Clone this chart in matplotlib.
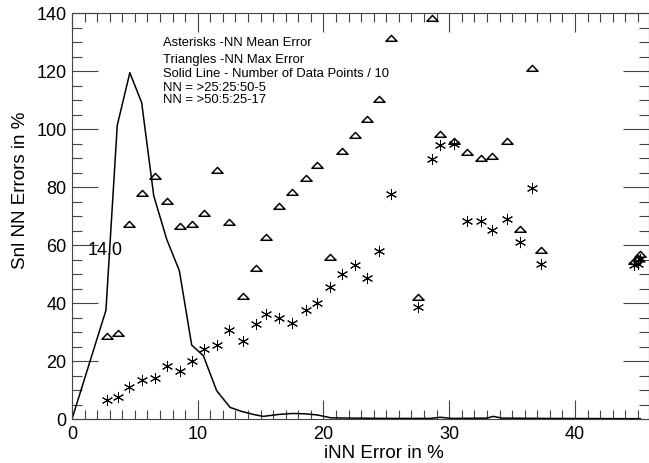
import matplotlib
matplotlib.use("Agg")
import matplotlib.pyplot as plt
from matplotlib.path import Path
from matplotlib.ticker import MultipleLocator

plt.rcParams['font.family'] = ['Liberation Sans', 'DejaVu Sans']

# bin centres (iNN error in %)
err_x = [2.76, 3.64, 4.56, 5.54, 6.6, 7.53, 8.6, 9.52, 10.5, 11.5, 12.5,
         13.6, 14.6, 15.4, 16.5, 17.5, 18.6, 19.5, 20.5, 21.5, 22.5, 23.5,
         24.4, 25.4, 27.55, 28.6, 29.3, 30.4, 31.4, 32.5, 33.4, 34.6, 35.6,
         36.6, 37.3, 44.7, 45.0, 45.2]
# triangles - NN max error
max_err = [28.7, 29.6, 67.2, 77.9, 83.8, 75.1, 66.4, 67.2, 71.2, 85.9, 68.1,
           42.5, 51.9, 62.8, 73.5, 78.4, 83.0, 87.6, 56.0, 92.4, 97.8, 103.6,
           110.2, 131.5, 41.9, 138.4, 98.2, 95.9, 91.9, 90.1, 90.7, 95.9, 65.4,
           121.1, 58.3, 54.5, 55.5, 57.0]
# asterisks - NN mean error
mean_err = [6.7, 7.7, 10.9, 13.5, 14.3, 18.4, 16.6, 20.0, 24.3, 25.6, 30.8,
            27.0, 32.7, 36.2, 34.8, 33.1, 37.7, 40.0, 45.4, 49.9, 53.0, 48.5,
            58.0, 77.7, 38.5, 89.6, 94.4, 94.7, 68.3, 68.3, 65.1, 68.9, 61.2,
            79.8, 53.4, 53.0, 53.4, 55.3]

# solid line - number of data points / 10
count_x = [0, 2.7, 3.6, 4.6, 5.54, 6.5, 7.53, 8.54, 9.52, 10.45, 11.5, 12.57,
           13.5, 14.5, 15.2, 16.5, 17.5, 18.5, 19.5, 20.6, 22.5, 25.0, 28.5,
           29.3, 30.2, 33.0, 33.5, 34.2, 37.5, 45.2]
count_y = [0, 37.5, 101.3, 119.4, 109.1, 77.0, 62.0, 51.1, 25.5, 21.8, 9.8, 4.0,
           2.6, 1.5, 0.9, 1.6, 1.9, 1.8, 1.4, 0.4, 0.3, 0.2, 0.2,
           0.6, 0.2, 0.3, 0.9, 0.3, 0.2, 0.1]

notes = ["Asterisks -NN Mean Error",
         "Triangles -NN Max Error",
         "Solid Line - Number of Data Points / 10",
         "NN = >25:25:50-5",
         "NN = >50:5:25-17"]
note_y = [130.1, 124.2, 119.2, 114.6, 110.2]

# flat IDL-like triangle
tri = Path([(-1, -0.5), (1, -0.5), (0, 0.55), (-1, -0.5)],
           [Path.MOVETO, Path.LINETO, Path.LINETO, Path.CLOSEPOLY])

W, H = 649, 464
fig = plt.figure(figsize=(W / 100, H / 100), dpi=100)
ax = fig.add_axes([72 / W, 1 - 420 / H, 576.5 / W, 406 / H])

ax.plot(count_x, count_y, color='black', lw=1.1)
ax.plot(err_x, max_err, ls='none', marker=tri, ms=8, mfc='none',
        mec='black', mew=1.1)
ax.plot(err_x, mean_err, ls='none', marker=(6, 2, 0), ms=8,
        mec='black', mew=0.7)

ax.text(1.27, 58.6, "14.0", fontsize=13, va='center', ha='left')
for t, y in zip(notes, note_y):
    ax.text(7.24, y, t, fontsize=9.4, va='center', ha='left')

ax.set_xlim(0, 45.85)
ax.set_ylim(0, 140)
ax.xaxis.set_major_locator(MultipleLocator(10))
ax.xaxis.set_minor_locator(MultipleLocator(1))
ax.yaxis.set_major_locator(MultipleLocator(20))
ax.yaxis.set_minor_locator(MultipleLocator(5))
ax.tick_params(which='both', direction='in', top=True, right=True,
               labelsize=13, pad=4, width=0.8, color='#444444')
ax.tick_params(axis='x', which='major', length=14)
ax.tick_params(axis='x', which='minor', length=6.5)
ax.tick_params(axis='y', which='major', length=19)
ax.tick_params(axis='y', which='minor', length=7.5)
for s in ax.spines.values():
    s.set_linewidth(0.8)
    s.set_color('#444444')

# axis titles placed where the reference has them
fig.text(384 / W, 1 - 458 / H, "iNN Error in %", fontsize=13.5,
         ha='center', va='baseline')
fig.text(25 / W, 1 - 190 / H, "Snl NN Errors in %", fontsize=13.5,
         rotation=90, rotation_mode='anchor', ha='center', va='baseline')

fig.savefig("out.png", dpi=100)
